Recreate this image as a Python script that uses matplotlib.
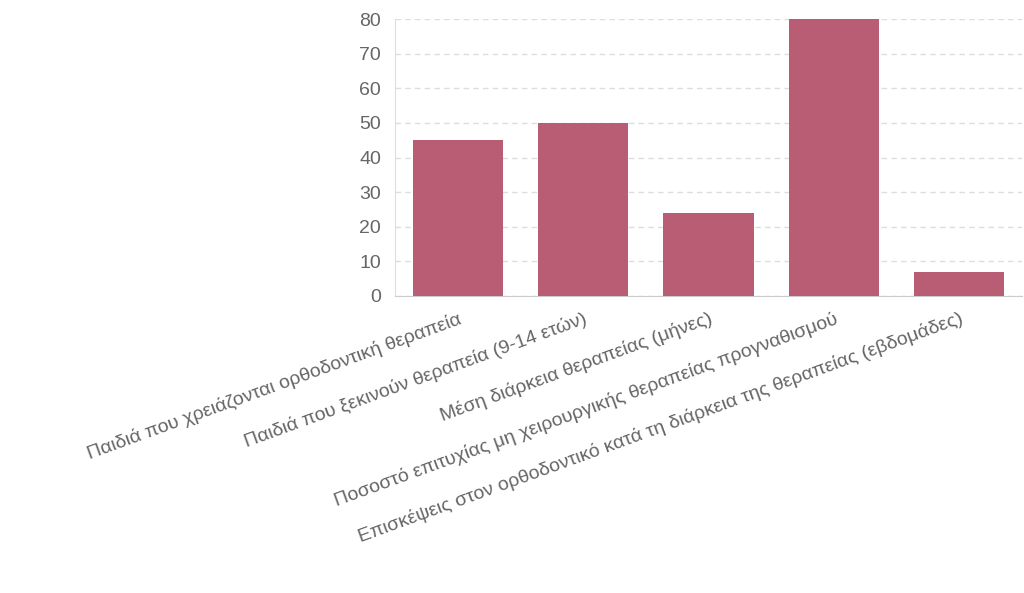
import matplotlib
matplotlib.use("Agg")
import matplotlib.pyplot as plt

plt.rcParams['font.family'] = ['Liberation Sans', 'DejaVu Sans']

categories = [
    "Παιδιά που χρειάζονται ορθοδοντική θεραπεία",
    "Παιδιά που ξεκινούν θεραπεία (9-14 ετών)",
    "Μέση διάρκεια θεραπείας (μήνες)",
    "Ποσοστό επιτυχίας μη χειρουργικής θεραπείας προγναθισμού",
    "Επισκέψεις στον ορθοδοντικό κατά τη διάρκεια της θεραπείας (εβδομάδες)",
]
values = [45, 50, 24, 80, 7]
yticks = [0, 10, 20, 30, 40, 50, 60, 70, 80]

fig = plt.figure(figsize=(10.24, 5.93), dpi=100)
ax = fig.add_axes([395/1024, 1-296/593, (1022-395)/1024, (296-19)/593])
ax.bar(range(len(values)), values, width=0.72, color="#b95d74", zorder=3)
ax.set_xlim(-0.5, len(values)-0.5)
ax.set_ylim(0, 80)
ax.set_yticks(yticks)
ax.yaxis.grid(True, linestyle=(0, (4, 3)), color="#dddddd", linewidth=1, zorder=0)
for s in ["top", "right"]:
    ax.spines[s].set_visible(False)
ax.spines["left"].set_color("#dddddd")
ax.spines["bottom"].set_color("#cccccc")
ax.tick_params(axis="y", colors="#666666", labelsize=14, length=0, pad=10)
ax.tick_params(axis="x", colors="#666666", labelsize=14, length=0, pad=10)
ax.set_xticks(range(len(values)))
ax.set_xticklabels(categories, rotation=20, ha="right", rotation_mode="anchor")
fig.savefig("out.png", dpi=100)
